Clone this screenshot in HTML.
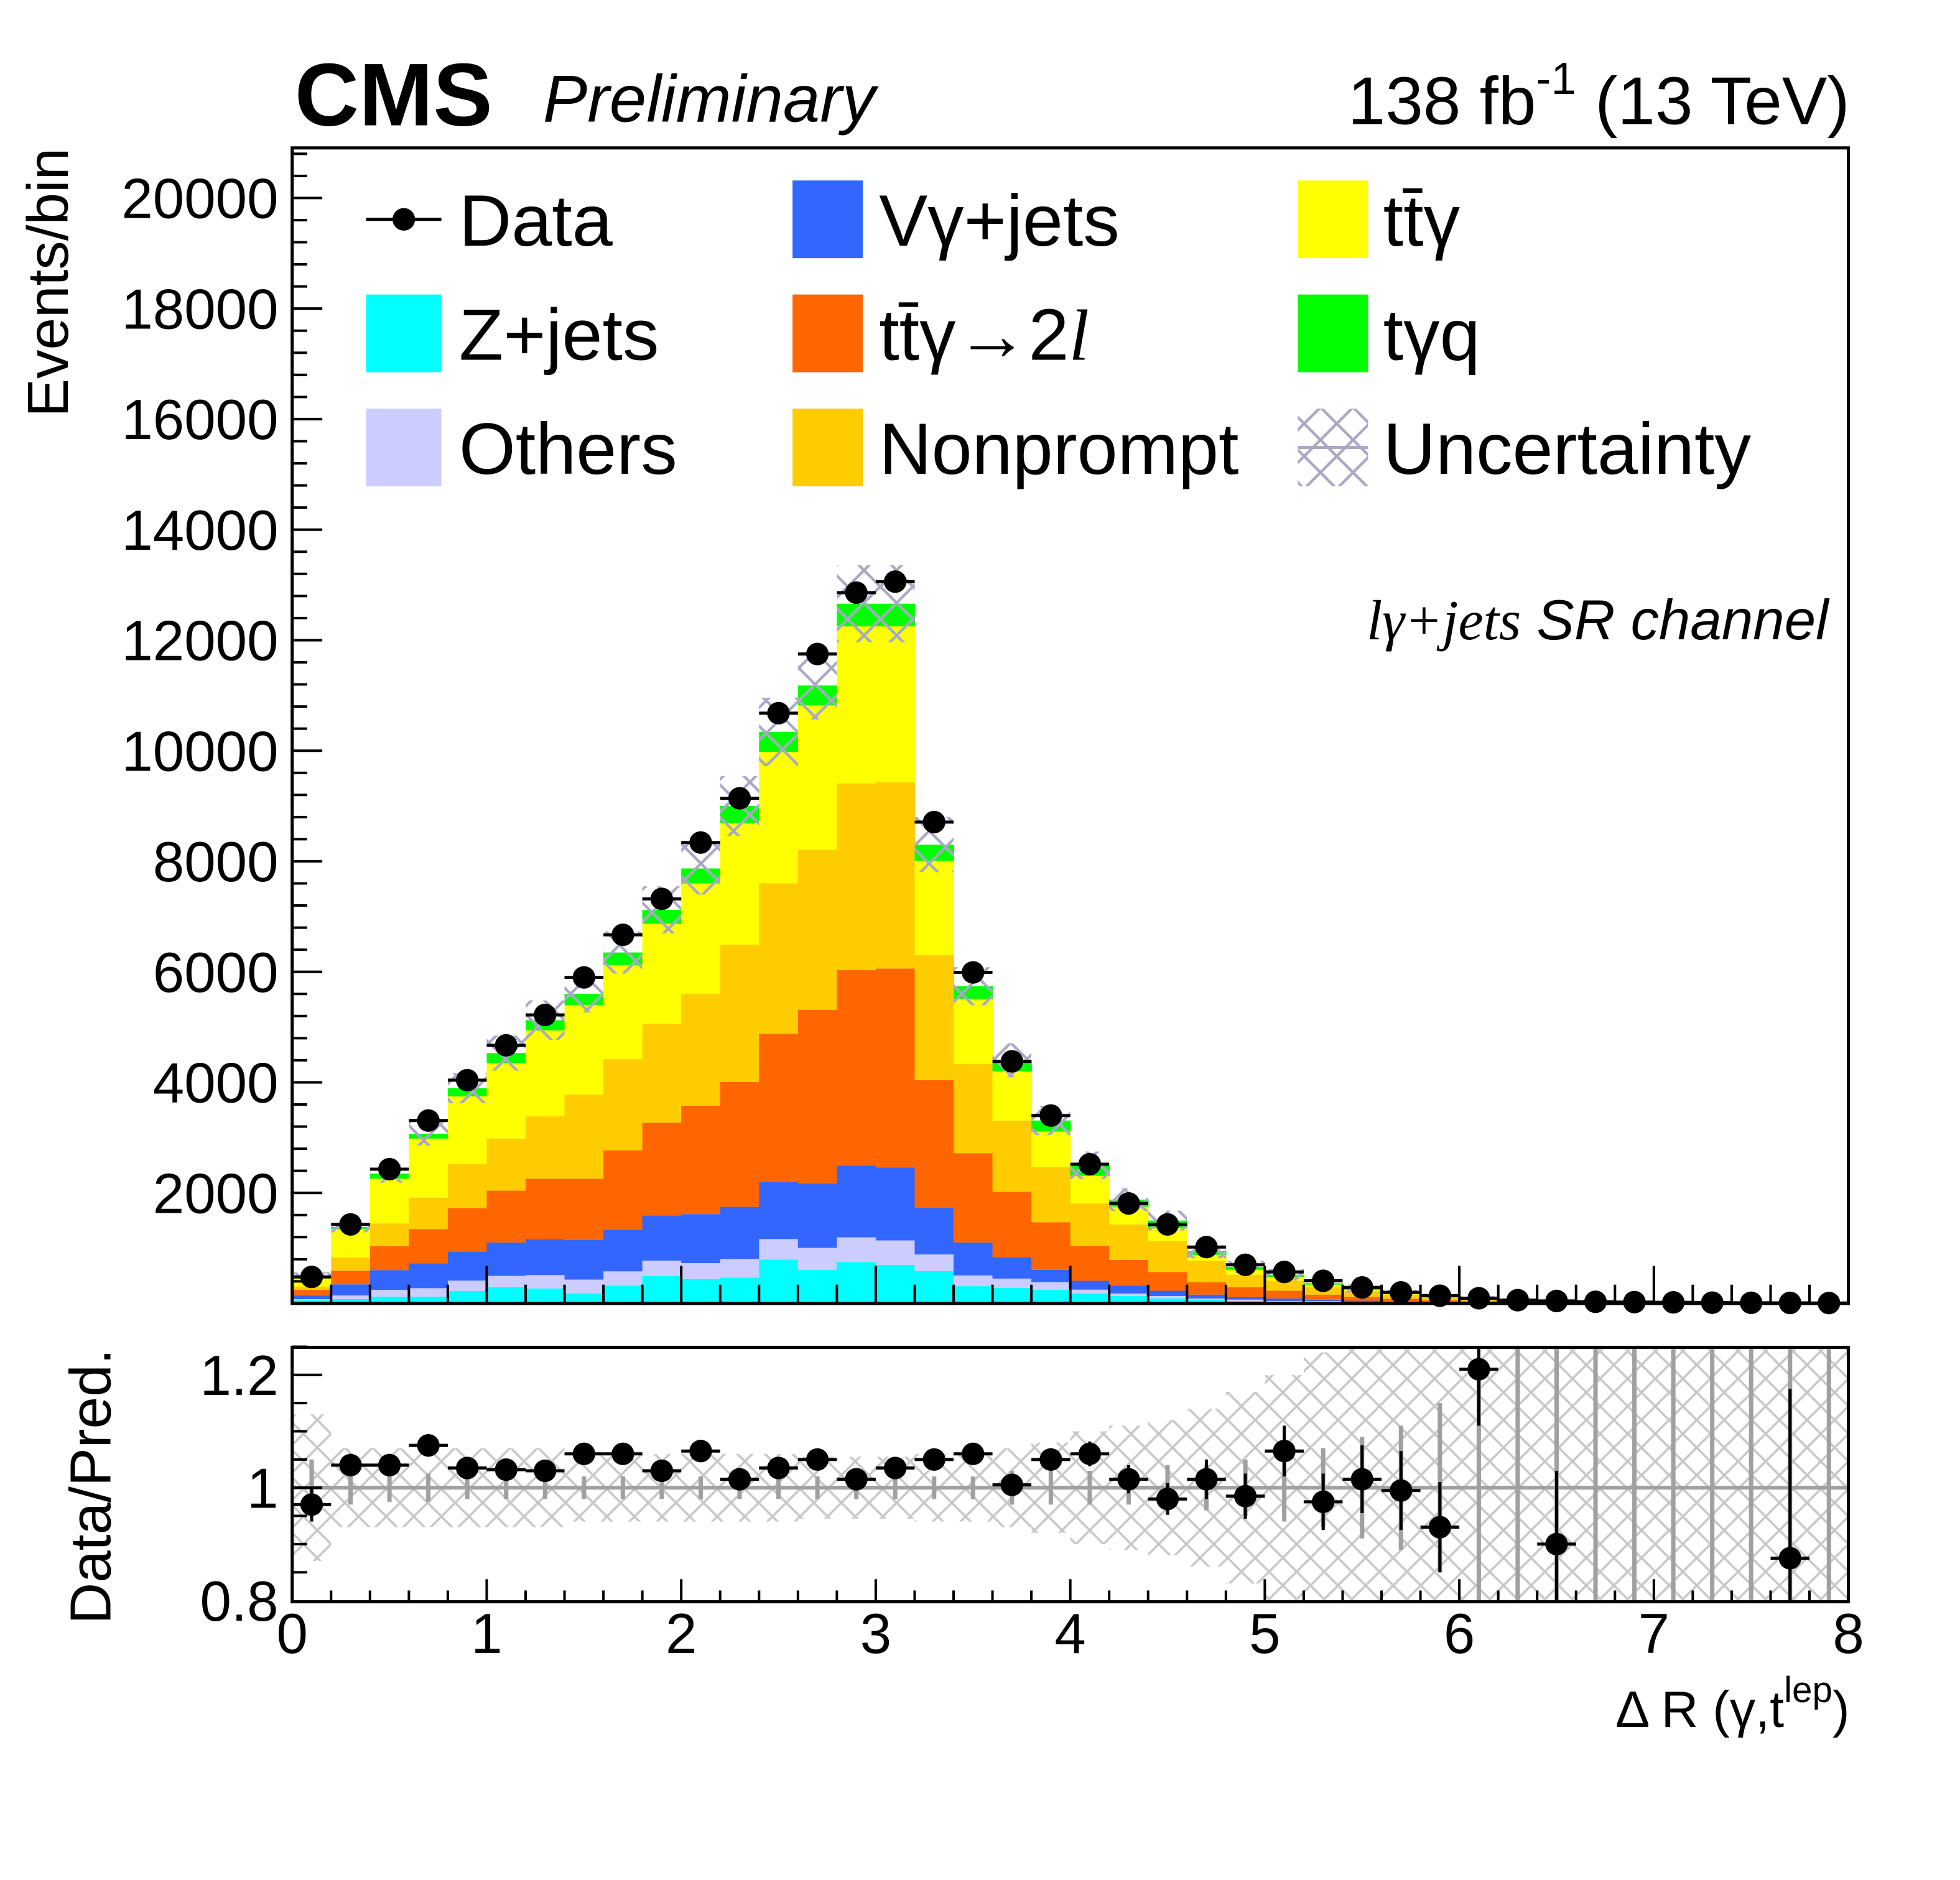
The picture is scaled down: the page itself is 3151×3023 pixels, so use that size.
<!DOCTYPE html>
<html><head><meta charset="utf-8"><style>
html,body{margin:0;padding:0;background:#fff;}
svg{display:block;font-family:"Liberation Sans",sans-serif;}
</style></head><body>
<svg id="chart" width="3151" height="3023" viewBox="0 0 1563 1500" preserveAspectRatio="none" xmlns="http://www.w3.org/2000/svg">
<defs>
<pattern id="hatchMain" width="26" height="26" patternUnits="userSpaceOnUse">
<path d="M0,0L26,26M26,0L0,26" stroke="#a9a9c6" stroke-width="2.2" fill="none"/>
</pattern>
<pattern id="hatchRatio" width="22" height="22" patternUnits="userSpaceOnUse">
<path d="M0,0L22,22M22,0L0,22" stroke="#c8c8c8" stroke-width="1.8" fill="none"/>
</pattern>
<clipPath id="clipMain"><rect x="233" y="118" width="1241" height="922"/></clipPath>
<clipPath id="clipRatio"><rect x="233" y="1075" width="1241" height="203"/></clipPath>
</defs>
<g id="mainStack" clip-path="url(#clipMain)"></g>
<g id="mainUnc" clip-path="url(#clipMain)"></g>
<g id="mainData"></g>
<g id="ratioG" clip-path="url(#clipRatio)"></g>
<g id="axes"></g>

<text x="235" y="100" font-size="71" font-weight="bold">CMS</text>
<text x="433" y="97" font-size="53" font-style="italic">Preliminary</text>
<text x="1475" y="99" font-size="54" text-anchor="end">138 fb<tspan dy="-24" font-size="36">-1</tspan><tspan dy="24"> (13 TeV)</tspan></text>
<text transform="translate(54,118) rotate(-90)" font-size="46" text-anchor="end">Events/bin</text>
<text transform="translate(88,1186) rotate(-90)" font-size="46" text-anchor="middle">Data/Pred.</text>
<text x="1475" y="1378" font-size="41" text-anchor="end">Δ R (γ,t<tspan dy="-20" font-size="29">lep</tspan><tspan dy="20">)</tspan></text>
<text x="1458" y="510" font-size="45" text-anchor="end" font-style="italic"><tspan font-family="Liberation Serif,serif">lγ+jets</tspan>  SR channel</text>

<g id="legend" font-size="58"></g>
</svg>
<script>
// ---- data ----
const binEdgesStart = 0, binWidth = 0.2, nBins = 40;
const zjets   = [59,78,123,123,227,294,272,183,320,495,439,469,793,607,749,700,588,313,280,250,180,135,90,70,45,25,25,20,12,8,6,4,3,2,1,1,1,0.5,0.5,0.3];
const others  = [19,67,123,153,186,205,242,249,261,280,291,336,373,399,447,440,298,194,170,135,70,45,45,20,25,20,20,10,8,6,4,3,2,1,1,1,0,0.5,0.5,0.2];
const vgjets  = [67,201,357,450,529,604,652,719,753,820,887,943,1028,1166,1296,1322,844,596,390,225,160,140,95,70,45,45,25,20,15,11,8,5,3,3,2,1,1,1,0.5,0.5];
const ttg2l   = [101,246,433,619,782,938,1091,1106,1437,1675,1962,2259,2686,3138,3538,3598,2310,1617,1180,860,630,470,340,225,180,140,90,70,50,35,24,16,12,8,6,5,4,3,2.5,2];
const nonprompt=[56,242,413,570,804,942,1128,1526,1649,1790,2021,2483,2720,2900,3380,3370,2260,1610,1290,1000,770,640,560,385,225,180,135,100,70,50,36,25,17,12,9,6,5,3,3,2];
const ttg     = [188,511,808,1068,1218,1367,1555,1617,1700,1810,2000,2200,2380,2610,2840,2820,1710,1180,890,640,500,320,230,110,90,65,45,25,20,15,10,7,5,4,3,3,2,2,1,1];
const tgq     = [7,38,93,86,149,180,185,200,230,250,270,310,360,360,410,410,290,230,200,200,190,130,140,70,50,45,25,25,15,10,7,5,3,2,2,1,1,1,1,1];
const dataVals= [480,1430,2430,3310,4040,4670,5220,5900,6670,7320,8340,9140,10680,11750,12860,13060,8710,5990,4380,3400,2520,1810,1430,1020,700,570,410,290,200,140,95,60,45,30,25,20,15,12,10,8];
const ratioVals=[0.97,1.04,1.04,1.075,1.035,1.032,1.03,1.06,1.06,1.03,1.065,1.015,1.035,1.05,1.015,1.035,1.05,1.06,1.005,1.05,1.06,1.015,0.98,1.015,0.985,1.065,0.975,1.015,0.995,0.93,1.21,null,0.9,null,null,null,null,null,0.875,null];
const ratioErr = [0.03,0.02,0.02,0.02,0.015,0.015,0.015,0.015,0.015,0.015,0.015,0.015,0.012,0.012,0.012,0.012,0.015,0.015,0.018,0.02,0.022,0.025,0.028,0.035,0.04,0.045,0.05,0.06,0.07,0.08,0.1,0.12,0.13,0.15,0.17,0.2,0.22,0.25,0.3,0.35];
const mcStatErr= [0.05,0.03,0.025,0.025,0.02,0.02,0.02,0.02,0.02,0.02,0.02,0.02,0.02,0.02,0.02,0.02,0.02,0.02,0.03,0.03,0.03,0.03,0.04,0.04,0.05,0.06,0.07,0.09,0.11,0.15,0.2,0.25,0.3,0.4,0.5,0.5,0.5,0.5,0.5,0.5];
const relUnc   = [0.13,0.07,0.07,0.07,0.07,0.07,0.07,0.06,0.06,0.06,0.06,0.06,0.06,0.055,0.055,0.055,0.06,0.06,0.07,0.08,0.1,0.11,0.12,0.14,0.17,0.2,0.24,0.28,0.3,0.35,0.4,0.45,0.5,0.5,0.5,0.5,0.5,0.5,0.5,0.5];
const yTicks = [2000,4000,6000,8000,10000,12000,14000,16000,18000,20000];
const rTicks = [0.8,1,1.2];
const rTickLabels = ["0.8","1","1.2"];
const xTicks = [0,1,2,3,4,5,6,7,8];

// ---- axes functions ----
const X = v => 233 + v*(1241/8);
const Y = c => 1040 - c*(922/20907);
const R = r => 1187 - (r-1)*450;
const NS = "http://www.w3.org/2000/svg";
function mk(tag, parent, attrs){const e=document.createElementNS(NS,tag);for(const k in attrs)e.setAttribute(k,attrs[k]);parent.appendChild(e);return e;}

const procs = [
 {v:zjets,c:"#00ffff",n:"zjets"},{v:others,c:"#ccccff",n:"others"},{v:vgjets,c:"#3366ff",n:"vgamma-jets"},
 {v:ttg2l,c:"#ff6600",n:"ttgamma-2l"},{v:nonprompt,c:"#ffcc00",n:"nonprompt"},{v:ttg,c:"#ffff00",n:"ttgamma"},{v:tgq,c:"#00ff00",n:"tgammaq"}];

const gS=document.getElementById('mainStack');
const totals=[];
for(let i=0;i<nBins;i++){
  let cum=0; const x0=X(binEdgesStart+i*binWidth), x1=X(binEdgesStart+(i+1)*binWidth);
  for(const p of procs){
    const lo=cum; cum+=p.v[i];
    const r=mk('rect',gS,{x:x0,y:Y(cum),width:x1-x0+0.4,height:Y(lo)-Y(cum),fill:p.c});
    
    
  }
  totals.push(cum);
}
const gU=document.getElementById('mainUnc');
for(let i=0;i<nBins;i++){
  const x0=X(i*binWidth), x1=X((i+1)*binWidth), t=totals[i];
  const r=mk('rect',gU,{x:x0,y:Y(t*(1+relUnc[i])),width:x1-x0,height:Y(t*(1-relUnc[i]))-Y(t*(1+relUnc[i])),fill:"url(#hatchMain)"});
  
  
}
const gD=document.getElementById('mainData');
for(let i=0;i<nBins;i++){
  const xc=X((i+0.5)*binWidth), d=dataVals[i], e=Math.sqrt(d);
  const g=mk('g',gD,{});
  
  
  mk('line',g,{x1:X(i*binWidth),x2:X((i+1)*binWidth),y1:Y(d),y2:Y(d),stroke:"#000","stroke-width":2.5});
  mk('line',g,{x1:xc,x2:xc,y1:Y(d+e),y2:Y(d-e),stroke:"#000","stroke-width":2.5});
  mk('circle',g,{cx:xc,cy:Y(d),r:9,fill:"#000"});
}
// ratio
const gR=document.getElementById('ratioG');
for(let i=0;i<nBins;i++){
  const x0=X(i*binWidth), x1=X((i+1)*binWidth);
  const r=mk('rect',gR,{x:x0,y:R(1+relUnc[i]),width:x1-x0,height:R(1-relUnc[i])-R(1+relUnc[i]),fill:"url(#hatchRatio)"});
  
  
}
mk('line',gR,{x1:233,x2:1474,y1:R(1),y2:R(1),stroke:"#a0a0a0","stroke-width":3});
for(let i=0;i<nBins;i++){
  const xc=X((i+0.5)*binWidth);
  const l=mk('line',gR,{x1:xc,x2:xc,y1:R(1+mcStatErr[i]),y2:R(1-mcStatErr[i]),stroke:"#a0a0a0","stroke-width":3.5});
  
  
}
for(let i=0;i<nBins;i++){
  if(ratioVals[i]===null) continue;
  const xc=X((i+0.5)*binWidth), r=ratioVals[i], e=ratioErr[i];
  const g=mk('g',gR,{});
  
  
  mk('line',g,{x1:X(i*binWidth),x2:X((i+1)*binWidth),y1:R(r),y2:R(r),stroke:"#000","stroke-width":2.5});
  mk('line',g,{x1:xc,x2:xc,y1:R(r+e),y2:R(r-e),stroke:"#000","stroke-width":2.5});
  mk('circle',g,{cx:xc,cy:R(r),r:9,fill:"#000"});
}
// axes
const gA=document.getElementById('axes');
mk('rect',gA,{x:233,y:118,width:1241,height:922,fill:"none",stroke:"#000","stroke-width":2.5});
mk('rect',gA,{x:233,y:1075,width:1241,height:203,fill:"none",stroke:"#000","stroke-width":2.5});
for(let v=400; v<=20800; v+=400){
  const major = v%2000===0;
  mk('line',gA,{x1:233,x2:233+(major?24:12),y1:Y(v),y2:Y(v),stroke:"#000","stroke-width":2});
}
for(const t of yTicks){
  const tx=mk('text',gA,{x:222,y:Y(t)+16,"font-size":45,"text-anchor":"end"}); tx.textContent=t;
  
  
}
for(let k=17;k<=25;k++){
  const v=k*0.05, major=(k%4===0);
  mk('line',gA,{x1:233,x2:233+(major?24:12),y1:R(v),y2:R(v),stroke:"#000","stroke-width":2});
}
rTicks.forEach((t,k)=>{
  const tx=mk('text',gA,{x:222,y:R(t)+16,"font-size":45,"text-anchor":"end"}); tx.textContent=rTickLabels[k];
  
  
});
for(let k=0;k<=40;k++){
  const v=k*0.2, major=k%5===0;
  mk('line',gA,{x1:X(v),x2:X(v),y1:1040,y2:1040-(major?30:15),stroke:"#000","stroke-width":2});
  mk('line',gA,{x1:X(v),x2:X(v),y1:1278,y2:1278-(major?18:9),stroke:"#000","stroke-width":2});
}
for(const t of xTicks){
  const tx=mk('text',gA,{x:X(t),y:1319,"font-size":45,"text-anchor":"middle"}); tx.textContent=t;
  
  
}
// legend
const gL=document.getElementById('legend');
const leg=[
 {t:"Data",x:292,y:175,type:"data"},{t:"Vγ+jets",x:632,y:175,c:"#3366ff"},{t:"tt̄γ",x:1035,y:175,c:"#ffff00"},
 {t:"Z+jets",x:292,y:266,c:"#00ffff"},{t:"tt̄γ→2l",x:632,y:266,c:"#ff6600"},{t:"tγq",x:1035,y:266,c:"#00ff00"},
 {t:"Others",x:292,y:357,c:"#ccccff"},{t:"Nonprompt",x:632,y:357,c:"#ffcc00"},{t:"Uncertainty",x:1035,y:357,type:"unc"}];
for(const e of leg){
  const g=mk('g',gL,{});
  
  
  if(e.type==="data"){
    mk('line',g,{x1:e.x,x2:e.x+60,y1:e.y,y2:e.y,stroke:"#000","stroke-width":2.5});
    mk('circle',g,{cx:e.x+30,cy:e.y,r:9,fill:"#000"});
  } else if(e.type==="unc"){
    mk('rect',g,{x:e.x,y:e.y-31,width:56,height:62,fill:"url(#hatchMain)"});
    mk('line',g,{x1:e.x,x2:e.x+56,y1:e.y,y2:e.y,stroke:"#a9a9c6","stroke-width":2.5});
  } else {
    mk('rect',g,{x:e.x,y:e.y-31,width:(e.x>600?56:60),height:62,fill:e.c});
  }
  const tx=mk('text',g,{x:e.x+(e.x>1000?68:(e.x>600?69:74)),y:e.y+21,"font-size":58});
  if(e.t==="tt̄γ→2l"){
    tx.textContent='tt̄γ→2';
    const ts=mk('tspan',tx,{"font-family":"Liberation Serif,serif","font-style":"italic"});
    ts.textContent='l';
  } else tx.textContent=e.t;
}
</script>
</body></html>
